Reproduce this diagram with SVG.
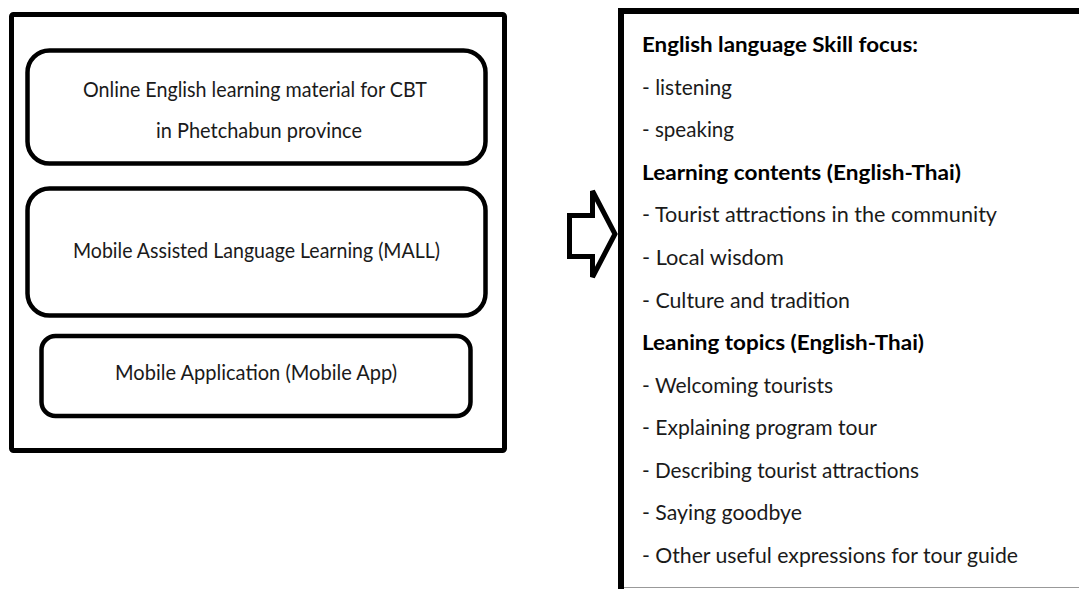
<svg xmlns="http://www.w3.org/2000/svg" width="1079" height="589" viewBox="0 0 1079 589">
<style>
.frame{fill:#fff;stroke:#000;stroke-width:5}
.box{fill:#fff;stroke:#000;stroke-width:4.5}
.t{font-family:Lato,"Liberation Sans",Arial,sans-serif;font-size:21px;fill:#1a1a1a}
.b{font-weight:bold;fill:#000}
</style>
<rect width="1079" height="589" fill="#fff"/>
<g id="left-frame">
<rect class="frame" x="11.5" y="14.5" width="493" height="436" rx="2"/>
</g>
<g id="node-online">
<rect class="box" x="27.5" y="50.5" width="458" height="113" rx="22"/>
<text class="t" x="83" y="97" textLength="344" lengthAdjust="spacingAndGlyphs">Online English learning material for CBT</text>
<text class="t" x="156" y="138" textLength="206" lengthAdjust="spacingAndGlyphs">in Phetchabun province</text>
</g>
<g id="node-mall">
<rect class="box" x="27.5" y="188.5" width="458" height="127" rx="22"/>
<text class="t" x="73" y="258" textLength="367" lengthAdjust="spacingAndGlyphs">Mobile Assisted Language Learning (MALL)</text>
</g>
<g id="node-app">
<rect class="box" x="41.5" y="336" width="429" height="80" rx="14"/>
<text class="t" x="115" y="380" textLength="282" lengthAdjust="spacingAndGlyphs">Mobile Application (Mobile App)</text>
</g>
<g id="connectors">
<polygon points="569.5,215.5 592.5,215.5 592.5,191 615,234 592.5,277 592.5,256.5 569.5,256.5" fill="#fff" stroke="#000" stroke-width="5" stroke-linejoin="miter"/>
</g>
<g id="node-content">
<line x1="621" y1="11" x2="1079" y2="11" stroke="#000" stroke-width="6"/>
<line x1="621" y1="8" x2="621" y2="589" stroke="#000" stroke-width="6"/>
<line x1="624" y1="587.5" x2="1079" y2="587.5" stroke="#999" stroke-width="1.2"/>
<text class="t b" x="642" y="52" textLength="276" lengthAdjust="spacingAndGlyphs">English language Skill focus:</text>
<text class="t" x="642" y="95" textLength="90" lengthAdjust="spacingAndGlyphs">- listening</text>
<text class="t" x="642" y="137" textLength="92" lengthAdjust="spacingAndGlyphs">- speaking</text>
<text class="t b" x="642" y="180" textLength="319" lengthAdjust="spacingAndGlyphs">Learning contents (English-Thai)</text>
<text class="t" x="642" y="222" textLength="355" lengthAdjust="spacingAndGlyphs">- Tourist attractions in the community</text>
<text class="t" x="642" y="265" textLength="142" lengthAdjust="spacingAndGlyphs">- Local wisdom</text>
<text class="t" x="642" y="308" textLength="208" lengthAdjust="spacingAndGlyphs">- Culture and tradition</text>
<text class="t b" x="642" y="350" textLength="282" lengthAdjust="spacingAndGlyphs">Leaning topics (English-Thai)</text>
<text class="t" x="642" y="393" textLength="191" lengthAdjust="spacingAndGlyphs">- Welcoming tourists</text>
<text class="t" x="642" y="435" textLength="235" lengthAdjust="spacingAndGlyphs">- Explaining program tour</text>
<text class="t" x="642" y="478" textLength="277" lengthAdjust="spacingAndGlyphs">- Describing tourist attractions</text>
<text class="t" x="642" y="520" textLength="160" lengthAdjust="spacingAndGlyphs">- Saying goodbye</text>
<text class="t" x="642" y="563" textLength="376" lengthAdjust="spacingAndGlyphs">- Other useful expressions for tour guide</text>
</g>
</svg>
